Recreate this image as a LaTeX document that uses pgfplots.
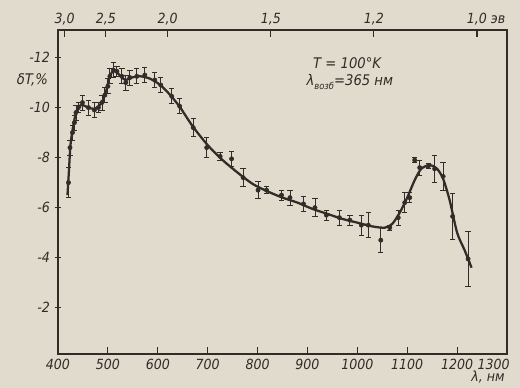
\documentclass[border=0pt]{standalone}
\usepackage{fontspec}
\setmainfont{DejaVu Sans Condensed}
\usepackage{pgfplots}
\pgfplotsset{compat=1.18}
\definecolor{paper}{RGB}{224,219,204}
\definecolor{ink}{RGB}{48,44,40}
\begin{document}
\begin{tikzpicture}[x=1pt,y=1pt]
\path[use as bounding box, fill=paper] (-43.5,-25.5) rectangle (346.5,265.5);
\begin{axis}[
  scale only axis, width=336.75pt, height=243pt,
  xmin=400, xmax=1300, ymin=-13.1, ymax=-0.15, y dir=reverse,
  axis line style={ink, line width=1.2pt},
  xtick={400,500,600,700,800,900,1000,1100,1200,1300},
  xticklabels={400,500,600,700,800,900,1000,1100,1200,\llap{1300\kern-2pt}},
  ytick={-12,-10,-8,-6,-4,-2},
  yticklabels={-12,-10,-8,-6,-4,-2},
  xtick pos=left, ytick pos=left,
  xtick align=inside, ytick align=center,
  major tick length=5pt,
  tick style={ink, line width=0.8pt},
  ticklabel style={font=\itshape\fontsize{10.5}{12}\selectfont, text=ink},
  clip=false,
]
\addplot[ink, line width=1.7pt, smooth, tension=0.45] coordinates {
(419,-6.5) (422,-7.5) (425,-8.5) (430,-9.2) (436,-9.8) (442,-10.05) (450,-10.1)
(460,-10.0) (472,-9.95) (482,-10.05) (490,-10.3) (497,-10.7) (503,-11.2) (510,-11.45)
(518,-11.4) (528,-11.2) (536,-11.1) (548,-11.2) (565,-11.25) (585,-11.15) (605,-10.9)
(625,-10.5) (645,-10.0) (670,-9.25) (700,-8.5) (730,-7.9) (760,-7.4) (790,-6.95)
(820,-6.65) (850,-6.4) (880,-6.2) (910,-5.95) (940,-5.75) (970,-5.55) (1000,-5.4)
(1030,-5.25) (1055,-5.2) (1070,-5.35) (1085,-5.8) (1100,-6.4) (1115,-7.1) (1128,-7.55)
(1145,-7.7) (1160,-7.55) (1172,-7.15) (1185,-6.3) (1200,-5.0) (1215,-4.3) (1229,-3.6)
};
\addplot[only marks, mark=*, mark size=1.6pt, ink,
  error bars/.cd, y dir=both, y explicit,
  error bar style={ink, line width=0.6pt},
  error mark options={rotate=90, mark size=2pt, line width=0.6pt, ink}]
coordinates {
(421,-7.0) +- (0,0.6)
(424,-8.4) +- (0,0.3)
(429,-9.0) +- (0,0.3)
(433,-9.4) +- (0,0.3)
(436,-9.8) +- (0,0.3)
(441,-10.0) +- (0,0.2)
(449,-10.2) +- (0,0.3)
(461,-10.0) +- (0,0.3)
(473,-9.9) +- (0,0.3)
(481,-10.0) +- (0,0.2)
(488,-10.2) +- (0,0.3)
(494,-10.5) +- (0,0.3)
(500,-10.85) +- (0,0.3)
(504,-11.25) +- (0,0.3)
(511,-11.5) +- (0,0.3)
(518,-11.45) +- (0,0.2)
(528,-11.25) +- (0,0.3)
(536,-11.0) +- (0,0.3)
(544,-11.2) +- (0,0.3)
(558,-11.25) +- (0,0.3)
(574,-11.3) +- (0,0.3)
(594,-11.1) +- (0,0.3)
(606,-10.9) +- (0,0.3)
(628,-10.45) +- (0,0.3)
(644,-10.05) +- (0,0.3)
(671,-9.2) +- (0,0.35)
(698,-8.4) +- (0,0.4)
(725,-8.05) +- (0,0.15)
(748,-7.95) +- (0,0.3)
(771,-7.2) +- (0,0.35)
(801,-6.7) +- (0,0.35)
(818,-6.7) +- (0,0.15)
(848,-6.5) +- (0,0.2)
(865,-6.4) +- (0,0.3)
(892,-6.15) +- (0,0.3)
(915,-6.0) +- (0,0.35)
(938,-5.7) +- (0,0.2)
(964,-5.6) +- (0,0.3)
(985,-5.5) +- (0,0.2)
(1008,-5.3) +- (0,0.4)
(1022,-5.3) +- (0,0.5)
(1047,-4.7) +- (0,0.5)
(1065,-5.2) +- (0,0.1)
(1082,-5.6) +- (0,0.3)
(1095,-6.2) +- (0,0.4)
(1105,-6.4) +- (0,0.2)
(1115,-7.9) +- (0,0.1)
(1125,-7.6) +- (0,0.3)
(1142,-7.65) +- (0,0.1)
(1155,-7.55) +- (0,0.55)
(1172,-7.25) +- (0,0.55)
(1191,-5.65) +- (0,0.9)
(1222,-3.95) +- (0,1.1)
};
\node[anchor=east, text=ink, font=\itshape\fontsize{11}{12}\selectfont] at (rel axis cs:-0.012,0.846) {δT,\%};
\node[anchor=east, text=ink, font=\itshape\fontsize{10.5}{12}\selectfont] at (rel axis cs:1.005,-0.072) {λ, нм};
\node[text=ink, font=\itshape\fontsize{11}{12}\selectfont] at (rel axis cs:0.644,0.898) {T = 100°K};
\node[anchor=west, text=ink, font=\itshape\fontsize{11}{12}\selectfont] at (rel axis cs:0.543,0.84) {λ\raisebox{-0.5ex}{\fontsize{7}{8}\selectfont возб}=365 нм};
\end{axis}
\begin{axis}[
  scale only axis, width=336.75pt, height=243pt,
  xmin=400, xmax=1300, ymin=-13.1, ymax=-0.15, y dir=reverse,
  axis line style={draw=none},
  xtick={413.3,495.9,619.9,826.6,1033.2,1239.8},
  xticklabels={{3,0},{2,5},{2,0},{1,5},{1,2},{1,0\rlap{ эв}}},
  xtick pos=right, xticklabel pos=right,
  ytick=\empty,
  xtick align=inside,
  major tick length=5pt,
  tick style={ink, line width=0.8pt},
  ticklabel style={font=\itshape\fontsize{10.5}{12}\selectfont, text=ink},
]
\addplot[draw=none] coordinates {(400,-5) (1300,-5)};
\end{axis}
\end{tikzpicture}
\end{document}
